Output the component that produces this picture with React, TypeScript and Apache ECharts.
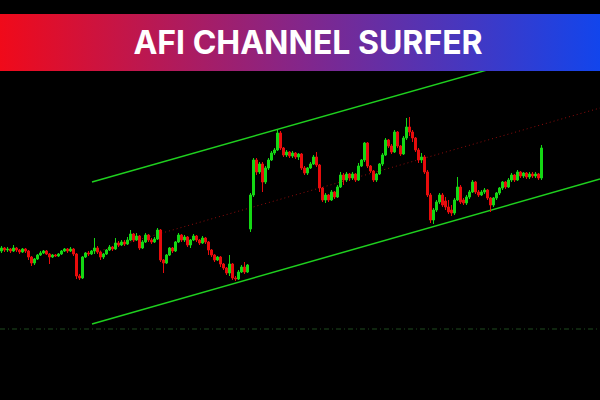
import React, { useEffect, useRef } from "react";
import * as echarts from "echarts";

// OHLC tuples: [open, close, low, high] (price units)
const segmentA: number[][] = [
  [149,152,147,154],[152,150,148,153],[150,151,148,153],[151,149,147,152],[149,152,148,155],
  [152,150,148,153],[150,148,146,151],[148,151,147,152],[151,149,147,152],[149,143,140,150],
  [143,137,134,144],[137,141,135,142],[141,145,140,146],[145,147,144,149],[147,149,146,150],
  [149,146,145,150],[146,143,136,147],[143,145,142,146],[145,144,143,146],[144,146,143,147],
  [146,149,145,150],[149,151,148,152],[151,149,147,152],[149,151,148,153],[151,146,144,152],
  [146,124,121,147],[124,122,120,126],[122,143,121,144],[143,147,142,148],[147,146,144,149],
  [146,149,145,150],[149,152,146,162],[152,148,146,154],[148,143,140,149],[143,146,141,147],
  [146,150,145,151],[150,153,149,155],[153,151,149,154],[151,157,150,162],[157,155,153,159],
];
const segmentB: number[][] = [
  [155,158,154,160],[158,156,154,160],[156,160,155,163],[160,166,159,170],[166,160,158,167],
  [160,164,159,167],[164,152,150,165],[152,158,151,160],[158,165,157,167],[165,160,158,166],
  [160,158,156,162],[158,161,157,163],[161,170,160,172],[170,140,138,171],[140,137,127,141],
  [137,145,136,146],[145,152,144,153],[152,149,147,153],[149,158,148,159],[158,165,157,167],
  [165,160,158,166],[160,163,158,165],[163,155,153,164],[155,160,152,161],[160,164,159,166],
  [164,160,158,165],[160,157,155,161],[157,162,156,164],[162,158,156,163],[158,150,145,159],
  [150,145,143,151],[145,140,138,146],[140,143,139,144],[143,136,133,144],[136,132,130,137],
  [132,127,125,133],[127,136,124,145],[136,122,120,137],[122,121,119,124],[121,128,120,130],
  [128,133,127,135],[133,128,126,138],[128,135,127,136],
];
const segmentC: number[][] = [
  [171,205,168,207],[205,240,203,242],[240,228,225,242],[228,236,226,238],[236,218,208,238],
  [218,232,216,234],[232,240,230,242],[240,247,239,249],[247,250,245,252],[250,267,249,270],
  [267,252,250,269],[252,245,243,253],[245,248,243,250],[248,244,242,249],[244,247,242,249],
  [247,243,241,248],[243,246,240,247],[246,232,230,247],[232,227,225,234],[227,232,225,233],
  [232,236,231,238],[236,243,235,245],[243,235,233,248],[235,212,208,236],[212,200,198,213],
  [200,205,197,207],[205,200,198,206],[200,208,199,210],[208,203,201,209],[203,213,202,215],
  [213,225,212,228],[225,220,215,227],[220,226,218,228],[226,222,219,227],[222,226,220,228],
  [226,220,218,227],[220,234,219,237],[234,240,233,241],
];
const segmentD: number[][] = [
  [240,257,238,258],[257,234,232,258],[234,229,227,235],[229,220,218,230],[220,226,218,227],
  [226,236,225,237],[236,245,234,247],[245,260,244,262],[260,254,252,261],[254,248,246,256],
  [248,268,247,270],[268,254,252,269],[254,246,244,255],[246,262,245,264],[262,273,260,282],
  [273,268,264,283],[268,262,258,270],[262,250,248,263],[250,240,237,252],[240,243,237,247],
  [243,228,226,245],[228,205,203,230],[205,180,177,207],[180,190,176,192],[190,198,188,200],
  [198,205,196,207],[205,195,193,207],[199,193,190,203],[193,188,186,200],[190,187,184,195],
  [187,200,185,202],[200,213,199,223],[213,198,196,215],[200,197,195,202],[197,203,195,205],
  [203,208,201,210],[208,218,207,220],[218,208,206,219],[208,205,203,210],[205,208,204,210],
  [208,210,206,212],[210,202,200,211],[202,195,188,203],[195,202,193,203],[202,207,200,208],
  [207,212,205,213],[212,218,210,219],[218,213,211,219],[213,220,212,222],[220,225,218,227],
  [225,220,218,226],[220,228,219,230],[228,224,222,229],[224,227,222,228],[227,223,221,228],
  [223,226,221,228],[226,224,222,228],[224,226,222,228],[226,222,220,227],[222,252,220,255],
];

const slotCount = 200;
const categories: string[] = Array.from({ length: slotCount }, (_, i) => String(i));

// Channel lines: [x, price]
const upperChannel = [[92, 218], [600, 362]];
const middleChannel = [[92, 147], [600, 292]];
const lowerChannel = [[92, 76], [600, 221]];
const baseLine = [[0, 71], [600, 71]];

const title = "AFI CHANNEL SURFER";

export default function App() {
  const ref = useRef<HTMLDivElement>(null);
  useEffect(() => {
    if (!ref.current) return;
    const chart = echarts.init(ref.current, undefined, { renderer: "svg" });
    const candles = [...segmentA, ...segmentB, ...segmentC, ...segmentD];
    chart.setOption({
      animation: false,
      backgroundColor: "#000000",
      grid: { left: 0, right: 0, top: 0, bottom: 0 },
      xAxis: [
        { type: "category", data: categories, boundaryGap: true, show: false },
        { type: "value", min: 0, max: 600, show: false },
      ],
      yAxis: { type: "value", min: 0, max: 400, show: false, splitLine: { show: false } },
      series: [
        {
          type: "line", xAxisIndex: 1, data: baseLine, showSymbol: false, silent: true, z: 1,
          lineStyle: { color: "#1f4a1f", width: 1, type: [5, 3, 1, 3] },
        },
        {
          type: "line", xAxisIndex: 1, data: middleChannel, showSymbol: false, silent: true, z: 1,
          lineStyle: { color: "#900c0c", width: 1, type: [1, 3] },
        },
        {
          type: "line", xAxisIndex: 1, data: upperChannel, showSymbol: false, silent: true, z: 1,
          lineStyle: { color: "#1fd01f", width: 1.5 },
        },
        {
          type: "line", xAxisIndex: 1, data: lowerChannel, showSymbol: false, silent: true, z: 1,
          lineStyle: { color: "#1fd01f", width: 1.5 },
        },
        {
          type: "candlestick", xAxisIndex: 0, data: candles, barWidth: 1.8, z: 3, silent: true,
          itemStyle: {
            color: "#14d814", color0: "#e80c0c",
            borderColor: "#14d814", borderColor0: "#e80c0c", borderWidth: 1,
          },
        },
      ],
      graphic: [
        {
          type: "rect", z: 100, shape: { x: 0, y: 14, width: 600, height: 57 },
          style: {
            fill: new echarts.graphic.LinearGradient(0, 0, 1, 0, [
              { offset: 0, color: "#f00a1a" },
              { offset: 0.5, color: "#84268a" },
              { offset: 1, color: "#1245ec" },
            ]),
          },
        },
        {
          type: "text", z: 101, x: 308, y: 42,
          style: {
            text: title, fill: "#ffffff", font: "bold 32px Inter",
            textAlign: "center", textVerticalAlign: "middle",
          },
        },
      ],
    });
    return () => chart.dispose();
  }, []);
  return (
    <div
      ref={ref}
      style={{ position: "fixed", left: 0, top: 0, width: 600, height: 400, background: "#000" }}
    />
  );
}
